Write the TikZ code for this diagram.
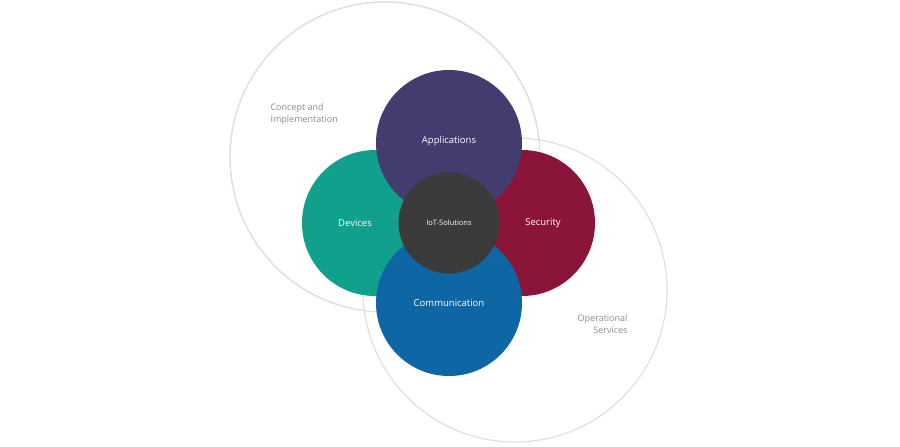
\documentclass[tikz,border=0pt]{standalone}
\usepackage{fontspec}
\setmainfont{Open Sans}
\definecolor{app}{HTML}{433C6E}
\definecolor{dev}{HTML}{10A08B}
\definecolor{sec}{HTML}{8A1538}
\definecolor{com}{HTML}{0F66A5}
\definecolor{iot}{HTML}{3B3B3B}
\definecolor{lbl}{HTML}{8C8C8C}
\begin{document}
\begin{tikzpicture}[x=1pt,y=-1pt,
  big/.style={circle,draw=black!12,line width=1.2pt,fill=white,minimum size=#1},
  col/.style={circle,fill=#1,minimum size=146,inner sep=0pt,text=white,font=\fontsize{9.5}{11}\selectfont},
  side/.style={text=lbl,font=\fontsize{9}{12}\selectfont}]
\useasboundingbox (0,0) rectangle (900,447);
\node[big=310] (c1) at (385,157) {};
\node[big=304] (c2) at (515,290) {};
\draw[black!12,line width=1.2pt] (c1) circle (155);
\node[side,align=left,anchor=north west] (t1) at (267,100) {Concept and\\Implementation};
\node[side,align=right,anchor=north east] (t2) at (631,311) {Operational\\Services};
\node[col=dev] (dev) at (375,223) {\hspace*{-40pt}Devices};
\node[col=sec] (sec) at (522,223) {\hspace*{42pt}Security};
\node[col=app] (app) at (449,143) {\raisebox{0pt}{}};
\node[col=com] (com) at (449,303) {};
\node[text=white,font=\fontsize{9.5}{11}\selectfont] (appt) at (449,141) {Applications};
\node[text=white,font=\fontsize{9.5}{11}\selectfont] (comt) at (449,303) {Communication};
\node[circle,fill=iot,minimum size=101,inner sep=0pt,text=white,font=\fontsize{7.5}{9}\selectfont] (iot) at (449,223) {IoT-Solutions};
\end{tikzpicture}
\end{document}
